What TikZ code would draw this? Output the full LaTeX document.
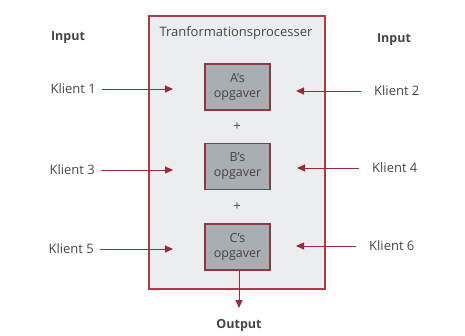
\documentclass[tikz,border=0pt]{standalone}
\usepackage{fontspec}
\setmainfont{Open Sans}
\usetikzlibrary{arrows.meta}
\definecolor{frame}{HTML}{B03A48}
\definecolor{arr}{HTML}{9A2A3A}
\definecolor{boxfill}{HTML}{A9AEB2}
\definecolor{boxline}{HTML}{8E3A46}
\definecolor{outerfill}{HTML}{ECEDEF}
\definecolor{txt}{HTML}{454545}
\tikzset{
  lbl/.style={text=txt, font=\fontsize{13}{15}\selectfont, inner sep=1pt},
  hdr/.style={text=txt, font=\fontsize{12.5}{15}\selectfont\bfseries, inner sep=1pt},
  task/.style={draw=boxline, line width=1.1pt, fill=boxfill, minimum width=65pt, minimum height=46pt, text=txt, font=\fontsize{12.5}{15}\selectfont, align=center, inner sep=1pt},
  flow/.style={draw=arr, line width=1pt, -{Triangle[length=8pt,width=7pt]}},
}
\begin{document}
\begin{tikzpicture}[x=1pt,y=-1pt]
\useasboundingbox (0,0) rectangle (465,335);
\node[draw=frame, line width=1.2pt, fill=outerfill, minimum width=176pt, minimum height=273pt, inner sep=0pt] (proc) at (237,152.5) {};
\node[text=txt, font=\fontsize{13}{15}\selectfont, inner sep=1pt] (title) at (236,33) {Tranformationsprocesser};
\node[task] (A) at (237.5,87) {A’s\\opgaver};
\node[task] (B) at (237.5,166.5) {B’s\\opgaver};
\node[task] (C) at (237.5,247) {C’s\\opgaver};
\node[text=txt, font=\fontsize{13}{15}\selectfont] (p1) at (237,127) {+};
\node[text=txt, font=\fontsize{13}{15}\selectfont] (p2) at (237,207) {+};
\node[hdr] (inL) at (68,38) {Input};
\node[hdr] (inR) at (394,40) {Input};
\node[lbl, anchor=east] (k1) at (97,89) {Klient 1};
\node[lbl, anchor=east] (k3) at (96,170) {Klient 3};
\node[lbl, anchor=east] (k5) at (95,249) {Klient 5};
\node[lbl, anchor=west] (k2) at (373,91) {Klient 2};
\node[lbl, anchor=west] (k4) at (371,168) {Klient 4};
\node[lbl, anchor=west] (k6) at (368,246) {Klient 6};
\coordinate (e1) at (173,89);
\coordinate (e3) at (173,170);
\coordinate (e5) at (173,249);
\coordinate (e2) at (296,91);
\coordinate (e4) at (297,168);
\coordinate (e6) at (296,246);
\draw[flow] (k1.east) ++(5,0) -- (e1);
\draw[flow] (k3.east) ++(5,0) -- (e3);
\draw[flow] (k5.east) ++(5,0) -- (e5);
\draw[flow] (k2.west) ++(-12,0) -- (e2);
\draw[flow] (k4.west) ++(-12,0) -- (e4);
\draw[flow] (k6.west) ++(-12,0) -- (e6);
\node[hdr] (out) at (239,325) {Output};
\coordinate (oe) at (239,308);
\draw[flow] (C.south -| oe) -- (oe);
\end{tikzpicture}
\end{document}
